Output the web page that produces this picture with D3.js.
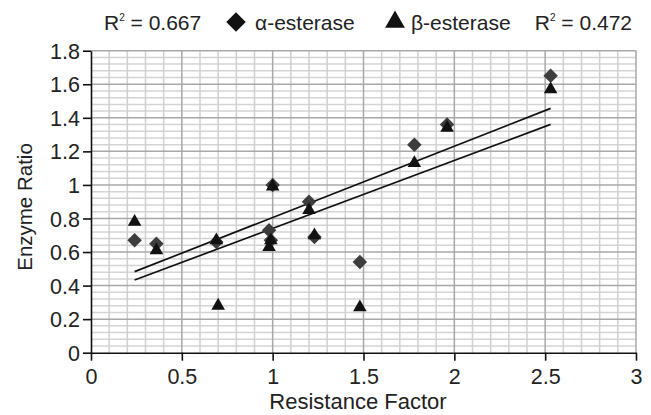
<!DOCTYPE html>
<html>
<head>
<meta charset="utf-8">
<script src="https://cdn.jsdelivr.net/npm/d3@7/dist/d3.min.js"></script>
<style>
  html, body { margin: 0; padding: 0; background: #fff; }
  svg { display: block; }
  text { font-family: "Liberation Sans", Arial, sans-serif; fill: #222; }
</style>
</head>
<body>
<svg id="chart" width="651" height="415"></svg>
<script>
// ---- data ----
const alphaX = [0.24, 0.36, 0.69, 0.98, 0.99, 1.00, 1.20, 1.23, 1.48, 1.78, 1.96, 2.53];
const alphaY = [0.67, 0.65, 0.66, 0.73, 0.67, 1.00, 0.90, 0.69, 0.54, 1.24, 1.36, 1.65];
const betaX  = [0.24, 0.36, 0.69, 0.70, 0.98, 0.99, 1.00, 1.20, 1.23, 1.48, 1.78, 1.96, 2.53];
const betaY  = [0.78, 0.61, 0.67, 0.28, 0.63, 0.67, 0.99, 0.85, 0.70, 0.27, 1.13, 1.34, 1.57];
const trendAlphaX = [0.24, 2.53];
const trendAlphaY = [0.483, 1.456];
const trendBetaX  = [0.24, 2.53];
const trendBetaY  = [0.433, 1.361];
const xTicks = [0, 0.5, 1, 1.5, 2, 2.5, 3];
const yTicks = [0, 0.2, 0.4, 0.6, 0.8, 1, 1.2, 1.4, 1.6, 1.8];
const xLabels = ["0", "0.5", "1", "1.5", "2", "2.5", "3"];
const yLabels = ["0", "0.2", "0.4", "0.6", "0.8", "1", "1.2", "1.4", "1.6", "1.8"];
const r2Alpha = "0.667";
const r2Beta = "0.472";

// ---- layout ----
const svg = d3.select("#chart");
const x = d3.scaleLinear().domain([0, 3]).range([91, 636]);
const y = d3.scaleLinear().domain([0, 1.8]).range([352.7, 50.7]);

// grid: minor horizontal every 0.04, minor vertical every 0.1, major at ticks
const minorY = d3.range(0, 1.8001, 0.04).filter(v => Math.abs(v * 5 - Math.round(v * 5)) > 1e-6);
const minorX = d3.range(0, 3.0001, 0.1).filter(v => Math.abs(v * 2 - Math.round(v * 2)) > 1e-6);
const grid = svg.append("g");
grid.selectAll("line.hy").data(minorY).enter().append("line")
  .attr("x1", x(0)).attr("x2", x(3)).attr("y1", d => y(d)).attr("y2", d => y(d))
  .attr("stroke", "#d4d4d4").attr("stroke-width", 1.5);
grid.selectAll("line.vx").data(minorX).enter().append("line")
  .attr("y1", y(0)).attr("y2", y(1.8)).attr("x1", d => x(d)).attr("x2", d => x(d))
  .attr("stroke", "#d0d0d0").attr("stroke-width", 1.5);
grid.selectAll("line.my").data(yTicks.slice(1)).enter().append("line")
  .attr("x1", x(0)).attr("x2", x(3)).attr("y1", d => y(d)).attr("y2", d => y(d))
  .attr("stroke", "#a8a8a8").attr("stroke-width", 1.5);
grid.selectAll("line.mx").data(xTicks.slice(1)).enter().append("line")
  .attr("y1", y(0)).attr("y2", y(1.8)).attr("x1", d => x(d)).attr("x2", d => x(d))
  .attr("stroke", "#a8a8a8").attr("stroke-width", 1.5);

// axes
const xAxis = d3.axisBottom(x).tickValues(xTicks).tickFormat((d, i) => xLabels[i]).tickSize(8).tickSizeOuter(0);
const yAxis = d3.axisLeft(y).tickValues(yTicks).tickFormat((d, i) => yLabels[i]).tickSize(8).tickSizeOuter(0);
const gx = svg.append("g").attr("transform", `translate(0,${y(0)})`).call(xAxis);
const gy = svg.append("g").attr("transform", `translate(${x(0)},0)`).call(yAxis);
[gx, gy].forEach(g => {
  g.select(".domain").attr("stroke", "#111").attr("stroke-width", 1.6);
  g.selectAll(".tick line").attr("stroke", "#111").attr("stroke-width", 1.6);
  g.selectAll(".tick text").attr("font-size", 21.5).attr("font-family", "Liberation Sans, Arial, sans-serif").attr("fill", "#222");
});
gx.selectAll(".tick text").attr("y", 31).attr("dy", 0);
gy.selectAll(".tick text").attr("x", -11).attr("dy", "0.35em");

// axis titles
svg.append("text").attr("x", 358).attr("y", 409).attr("text-anchor", "middle")
  .attr("font-size", 22).text("Resistance Factor");
svg.append("text").attr("transform", "translate(32,207) rotate(-90)").attr("text-anchor", "middle")
  .attr("font-size", 20.5).text("Enzyme Ratio");

// trend lines
const line = d3.line().x(d => x(d[0])).y(d => y(d[1]));
svg.append("path").datum(d3.zip(trendAlphaX, trendAlphaY)).attr("d", line)
  .attr("fill", "none").attr("stroke", "#111").attr("stroke-width", 1.7);
svg.append("path").datum(d3.zip(trendBetaX, trendBetaY)).attr("d", line)
  .attr("fill", "none").attr("stroke", "#111").attr("stroke-width", 1.7);

// markers
const diamond = d3.symbol().type(d3.symbolSquare).size(105)();
const triangle = d3.symbol().type(d3.symbolTriangle).size(80)();
svg.append("g").selectAll("path").data(d3.zip(alphaX, alphaY)).enter().append("path")
  .attr("d", diamond)
  .attr("transform", d => `translate(${x(d[0])},${y(d[1])}) rotate(45)`)
  .attr("fill", "#3d3d3d");
svg.append("g").selectAll("path").data(d3.zip(betaX, betaY)).enter().append("path")
  .attr("d", triangle)
  .attr("transform", d => `translate(${x(d[0])},${y(d[1])})`)
  .attr("fill", "#111");

// legend
const lg = svg.append("g").attr("font-size", 21);
const r1 = lg.append("text").attr("x", 104).attr("y", 30);
r1.append("tspan").text("R");
r1.append("tspan").attr("font-size", 10).attr("dy", -9).text("2");
r1.append("tspan").attr("dy", 9).text(" = " + r2Alpha);
lg.append("path").attr("d", d3.symbol().type(d3.symbolSquare).size(190)())
  .attr("transform", "translate(236,22) rotate(45)").attr("fill", "#111");
lg.append("text").attr("x", 255).attr("y", 30).text("α-esterase");
lg.append("path").attr("d", d3.symbol().type(d3.symbolTriangle).size(170)())
  .attr("transform", "translate(395,22)").attr("fill", "#111");
lg.append("text").attr("x", 411).attr("y", 30).text("β-esterase");
const r2 = lg.append("text").attr("x", 632).attr("y", 30).attr("text-anchor", "end");
r2.append("tspan").text("R");
r2.append("tspan").attr("font-size", 10).attr("dy", -9).text("2");
r2.append("tspan").attr("dy", 9).text(" = " + r2Beta);
</script>
</body>
</html>
